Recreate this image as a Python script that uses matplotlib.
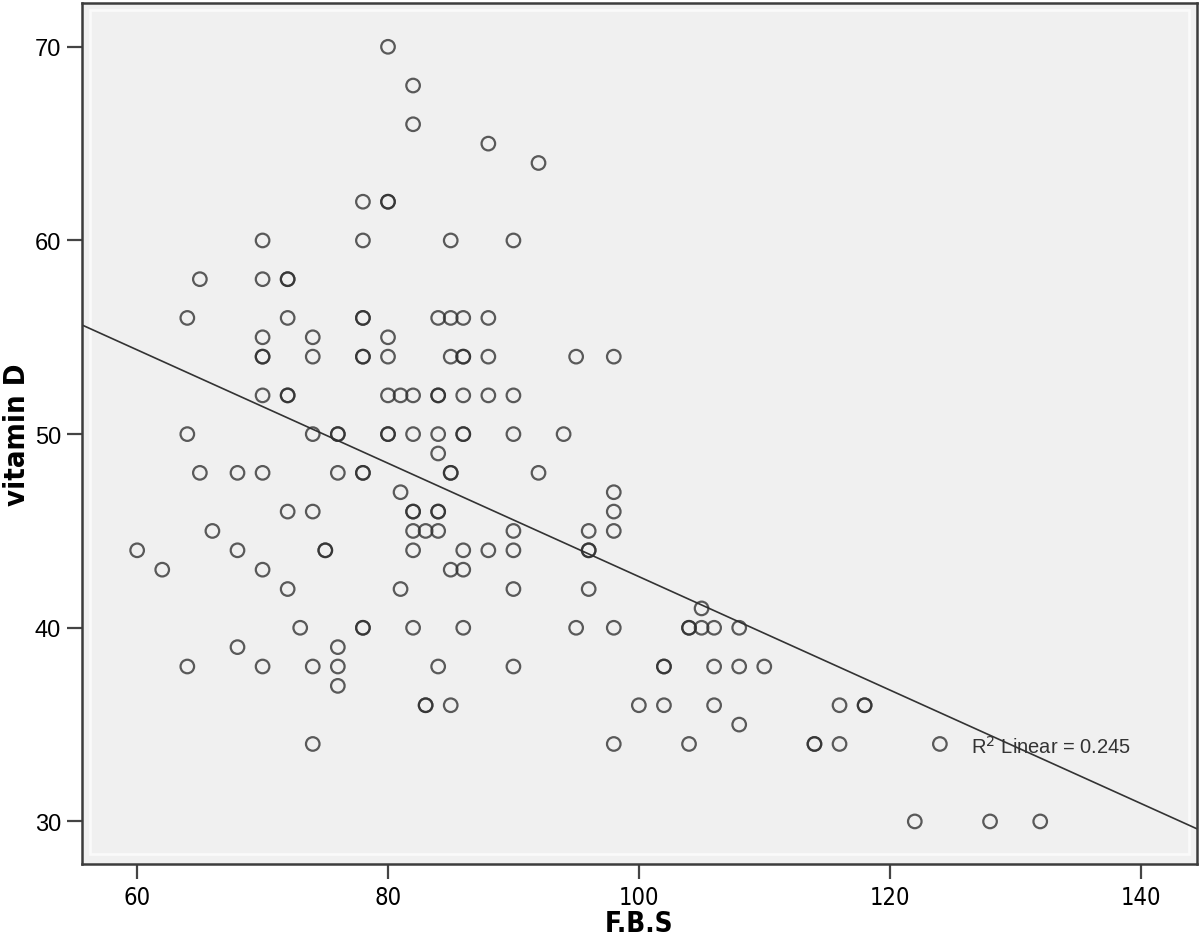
import numpy as np
import matplotlib
matplotlib.use('Agg')
import matplotlib.pyplot as plt
from matplotlib.patches import Rectangle

# values (overlapping circles = repeated cases)
fbs = [80,
       82,
       82,
       88,
       92,
       78, 80, 80,
       70, 78, 85, 90,
       65, 70, 72, 72,
       64, 72, 78, 78, 84, 85, 86, 88,
       70, 74, 80,
       70, 70, 74, 78, 78, 80, 85, 86, 86, 88, 95, 98,
       70, 72, 72, 80, 81, 82, 84, 84, 86, 88, 90,
       64, 74, 76, 76, 80, 80, 82, 84, 86, 86, 90, 94,
       84,
       65, 68, 70, 76, 78, 78, 85, 85, 92,
       81, 98,
       72, 74, 82, 82, 84, 84, 98,
       66, 82, 83, 84, 90, 96, 98,
       60, 68, 75, 75, 82, 86, 88, 90, 96, 96,
       62, 70, 85, 86,
       72, 81, 90, 96,
       105,
       73, 78, 78, 82, 86, 95, 98, 104, 104, 105, 106, 108,
       68, 76,
       64, 70, 74, 76, 84, 90, 102, 102, 106, 108, 110,
       76,
       83, 83, 85, 100, 102, 106, 116, 118, 118,
       108,
       74, 98, 104, 114, 114, 116, 124,
       122, 128, 132]

vitamin_d = [70,
             68,
             66,
             65,
             64,
             62, 62, 62,
             60, 60, 60, 60,
             58, 58, 58, 58,
             56, 56, 56, 56, 56, 56, 56, 56,
             55, 55, 55,
             54, 54, 54, 54, 54, 54, 54, 54, 54, 54, 54, 54,
             52, 52, 52, 52, 52, 52, 52, 52, 52, 52, 52,
             50, 50, 50, 50, 50, 50, 50, 50, 50, 50, 50, 50,
             49,
             48, 48, 48, 48, 48, 48, 48, 48, 48,
             47, 47,
             46, 46, 46, 46, 46, 46, 46,
             45, 45, 45, 45, 45, 45, 45,
             44, 44, 44, 44, 44, 44, 44, 44, 44, 44,
             43, 43, 43, 43,
             42, 42, 42, 42,
             41,
             40, 40, 40, 40, 40, 40, 40, 40, 40, 40, 40, 40,
             39, 39,
             38, 38, 38, 38, 38, 38, 38, 38, 38, 38, 38,
             37,
             36, 36, 36, 36, 36, 36, 36, 36, 36,
             35,
             34, 34, 34, 34, 34, 34, 34,
             30, 30, 30]

r2_text = 'R$^2$ Linear = 0.245'
x_ticks = [60, 80, 100, 120, 140]
y_ticks = [30, 40, 50, 60, 70]

x = np.array(fbs, dtype=float)
y = np.array(vitamin_d, dtype=float)

fig = plt.figure(figsize=(12, 9.37), dpi=100)
ax = fig.add_axes([0.0683, 0.0768, 0.9292, 0.9189])
ax.set_facecolor('#f0f0f0')

ax.set_xlim(55.6, 144.5)
ax.set_ylim(27.8, 72.26)

# inner light frame like SPSS
ax.add_patch(Rectangle((0.007, 0.012), 0.986, 0.98, transform=ax.transAxes,
                       fill=False, edgecolor='#fafafa', lw=2, zorder=1))

ax.scatter(x, y, s=95, facecolors='none', edgecolors='#2e2e2e',
           linewidths=1.6, alpha=0.78, zorder=3)

# least squares fit line
slope, intercept = np.polyfit(x, y, 1)
xl = np.array(ax.get_xlim())
ax.plot(xl, intercept + slope * xl, color='#333333', lw=1.2, zorder=2)

ax.text(126.5, 33.9, r2_text, fontsize=14.5, color='#333333',
        family=['Liberation Sans', 'DejaVu Sans'], va='center', ha='left', zorder=4)

for sp in ax.spines.values():
    sp.set_color('#3c3c3c')
    sp.set_linewidth(1.8)

ax.set_xticks(x_ticks)
ax.set_yticks(y_ticks)
ax.tick_params(axis='both', direction='out', length=11, width=1.6,
               color='#444444', pad=4)
for lab in ax.get_yticklabels():
    lab.set_family(['Liberation Sans', 'DejaVu Sans'])
    lab.set_fontsize(17)
for lab in ax.get_xticklabels():
    lab.set_family('DejaVu Sans')
    lab.set_fontstretch('condensed')
    lab.set_fontsize(17)

ax.set_xlabel('F.B.S', fontsize=20, fontweight='bold', family='DejaVu Sans',
              fontstretch='condensed', labelpad=0)
ax.set_ylabel('vitamin D', fontsize=21, fontweight='bold', family='DejaVu Sans',
              fontstretch='condensed', labelpad=3)

fig.savefig('out.png', dpi=100, facecolor='white')
